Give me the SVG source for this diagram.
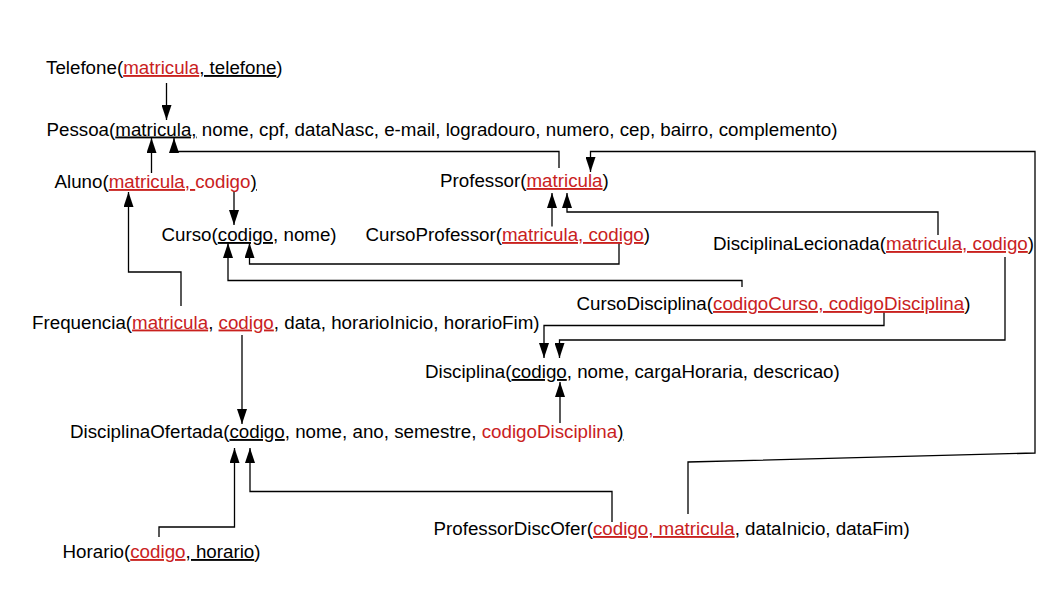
<svg xmlns="http://www.w3.org/2000/svg" width="1058" height="595" viewBox="0 0 1058 595">
<style>
text { font-family: "Liberation Sans", Arial, sans-serif; font-size: 18.75px; fill: #000; white-space: pre; }
.r { fill: #c9211e; }
.u { text-decoration: underline; }
.c { fill: none; stroke: #000; stroke-width: 1.3; marker-end: url(#ah); }
</style>
<defs>
<marker id="ah" markerUnits="userSpaceOnUse" markerWidth="15" markerHeight="10" refX="15" refY="5" orient="auto" viewBox="0 0 15 10">
<path d="M0,0 L15,5 L0,10 Z" fill="#000"/>
</marker>
</defs>
<rect width="1058" height="595" fill="#fff"/>
<g id="connectors">
<path class="c" d="M166.5,83 V120"/>
<path class="c" d="M151.5,173 V138"/>
<path class="c" d="M559,168 V151.5 H174 V138"/>
<path class="c" d="M688,514 V462 L1035,453 V151.5 H590.5 V172"/>
<path class="c" d="M552,226.5 V193"/>
<path class="c" d="M938,235 V212 H567 V193"/>
<path class="c" d="M619,242 V264 H249.5 V243"/>
<path class="c" d="M234,191 V225"/>
<path class="c" d="M742,287 V280.5 H228 V243"/>
<path class="c" d="M181,306 V272 H128.5 V192"/>
<path class="c" d="M242,335 V424"/>
<path class="c" d="M884,312 V325.5 H544 V358"/>
<path class="c" d="M1005,257 V340 H559.5 V358"/>
<path class="c" d="M560,423 V382"/>
<path class="c" d="M159,537 V527 H234.5 V448"/>
<path class="c" d="M612,522 V491.5 H250 V448"/>
</g>
<g id="Telefone"><text x="46" y="74">Telefone(<tspan class="r u">matricula</tspan><tspan class="u">, telefone</tspan>)</text></g>
<g id="Pessoa"><text x="46.5" y="135.5">Pessoa(<tspan class="u">matricula,</tspan> nome, cpf, dataNasc, e-mail, logradouro, numero, cep, bairro, complemento)</text></g>
<g id="Aluno"><text x="54.5" y="188">Aluno(<tspan class="r u">matricula, </tspan><tspan class="r">codigo</tspan><tspan class="u">)</tspan></text></g>
<g id="Professor"><text x="440" y="187">Professor(<tspan class="r u">matricula</tspan>)</text></g>
<g id="Curso"><text x="161.5" y="241">Curso(<tspan class="u">codigo</tspan>, nome)</text></g>
<g id="CursoProfessor"><text x="365.5" y="241">CursoProfessor(<tspan class="r u">matricula, codigo</tspan>)</text></g>
<g id="DisciplinaLecionada"><text x="713" y="250">DisciplinaLecionada(<tspan class="r u">matricula, codigo</tspan>)</text></g>
<g id="CursoDisciplina"><text x="576.5" y="310">CursoDisciplina(<tspan class="r u">codigoCurso, codigoDisciplina</tspan>)</text></g>
<g id="Frequencia"><text x="32" y="328.5">Frequencia(<tspan class="r u">matricula</tspan>, <tspan class="r u">codigo</tspan>, data, horarioInicio, horarioFim)</text></g>
<g id="Disciplina"><text x="425" y="378">Disciplina(<tspan class="u">codigo</tspan>, nome, cargaHoraria, descricao)</text></g>
<g id="DisciplinaOfertada"><text x="70" y="438">DisciplinaOfertada(<tspan class="u">codigo</tspan>, nome, ano, semestre, <tspan class="r">codigoDisciplina</tspan><tspan class="u">)</tspan></text></g>
<g id="ProfessorDiscOfer"><text x="433.5" y="535">ProfessorDiscOfer(<tspan class="r u">codigo, matricula</tspan>, dataInicio, dataFim)</text></g>
<g id="Horario"><text x="62.5" y="558">Horario(<tspan class="r u">codigo</tspan><tspan class="u">, horario</tspan>)</text></g>
</svg>
